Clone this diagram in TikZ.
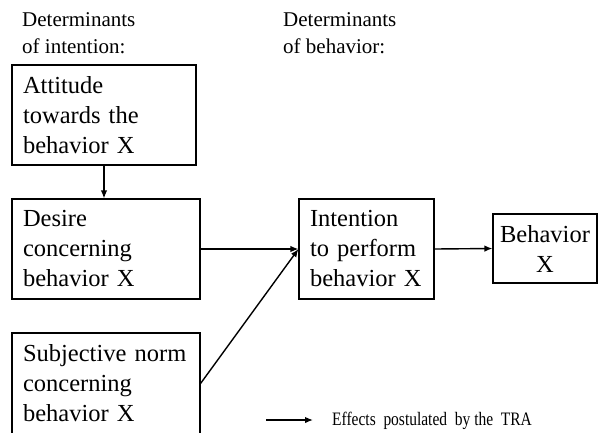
\documentclass[tikz,border=0pt]{standalone}
\usepackage{fontspec}
\setmainfont{Liberation Serif}
\usetikzlibrary{arrows.meta}
\begin{document}
\begin{tikzpicture}[x=1pt,y=-1pt,
  box/.style={draw=black,line width=1.1pt,rectangle,inner xsep=10pt,inner ysep=0pt,
    align=left,font=\fontsize{24.5}{30}\selectfont},
  header/.style={anchor=north west,inner sep=0pt,align=left,
    font=\fontsize{21}{27}\selectfont},
  arr/.style={line width=1.4pt,-{Latex[length=8pt,width=6.5pt]}}]
\useasboundingbox (0,0) rectangle (599,432);
\fill[white] (0,0) rectangle (599,432);
% column headings
\node[header] (h1) at (22,12) {Determinants\\of intention:};
\node[header] (h2) at (283,12) {Determinants\\of behavior:};
% boxes
\node[box,minimum width=184pt,minimum height=100pt,text width=162pt] (att) at (104,115)
  {Attitude\\towards the\\behavior X};
\node[box,minimum width=188pt,minimum height=100pt,text width=166pt] (des) at (106,249)
  {Desire\\concerning\\behavior X};
\node[box,minimum width=188pt,minimum height=101pt,text width=166pt] (sub) at (106,383.5)
  {Subjective norm\\concerning\\behavior X};
\node[box,minimum width=135pt,minimum height=100pt,text width=113pt] (int) at (366.5,249)
  {Intention\\to perform\\behavior X};
\node[box,inner xsep=2pt,align=center,minimum width=104pt,minimum height=69pt,text width=100pt] (beh) at (545,248.5)
  {Behavior\\X};
% effects
\draw[arr] (att.south) -- (att.south |- des.north);
\draw[arr] (des.east) -- (int.west);
\draw[arr] (sub.east) -- (int.west);
\draw[arr] (int.east) -- (beh.west);
% legend
\coordinate (legA) at (266,420);
\coordinate (legB) at (313,420);
\draw[arr] (legA) -- (legB);
\node[anchor=base west,inner sep=0pt,font=\fontsize{19}{22}\selectfont] (legtxt) at (332,425)
  {\scalebox{0.815}[1]{Effects\ \ postulated\ \ by\ the\ \ TRA}};
\end{tikzpicture}
\end{document}
